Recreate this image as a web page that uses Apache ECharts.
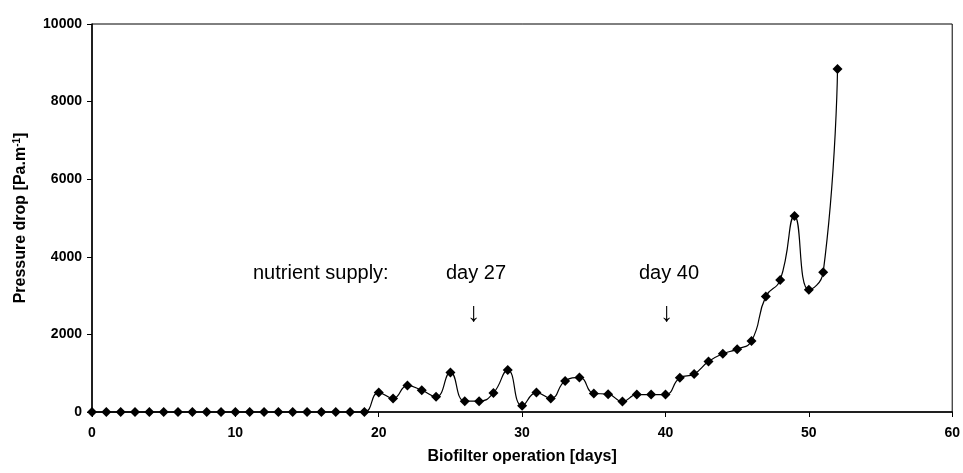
<!DOCTYPE html>
<html>
<head>
<meta charset="utf-8">
<script src="https://cdn.jsdelivr.net/npm/echarts@6/dist/echarts.min.js"></script>
<style>
  html, body { margin: 0; padding: 0; background: #fff; }
  #chart { width: 963px; height: 473px; }
</style>
</head>
<body>
<div id="chart"></div>
<script>
// Data
const days = [0,1,2,3,4,5,6,7,8,9,10,11,12,13,14,15,16,17,18,19,20,21,22,23,24,25,26,27,28,29,30,31,32,33,34,35,36,37,38,39,40,41,42,43,44,45,46,47,48,49,50,51,52];
const pressureDrop = [0,0,0,0,0,0,0,0,0,0,0,0,0,0,0,0,0,0,0,0,500,350,680,560,390,1020,280,280,490,1080,160,500,350,800,890,480,460,270,450,450,450,880,980,1300,1500,1620,1830,2980,3400,5050,3150,3600,8840];
const xTicks = { min: 0, max: 60, interval: 10 };
const yTicks = { min: 0, max: 10000, interval: 2000 };
const annotations = [
  { text: 'nutrient supply:', day: null },
  { text: 'day 27', day: 27 },
  { text: 'day 40', day: 40 }
];

const FONT = '"Liberation Sans", Arial, Helvetica, sans-serif';
const chart = echarts.init(document.getElementById('chart'), null, { renderer: 'canvas' });

const seriesData = days.map((d, i) => [d, pressureDrop[i]]);

const option = {
  backgroundColor: '#ffffff',
  animation: false,
  grid: {
    left: 92, right: 7, top: 24, bottom: 61,
    show: true, borderColor: '#000', borderWidth: 1, backgroundColor: 'transparent'
  },
  xAxis: {
    type: 'value',
    min: xTicks.min, max: xTicks.max, interval: xTicks.interval,
    name: 'Biofilter operation [days]',
    nameLocation: 'middle',
    nameGap: 37,
    nameTextStyle: { fontFamily: FONT, fontWeight: 'bold', fontSize: 16, color: '#000' },
    axisLine: { show: true, lineStyle: { color: '#000', width: 1.5 } },
    axisTick: { show: true, inside: false, length: 5, lineStyle: { color: '#000', width: 1 } },
    axisLabel: { fontFamily: FONT, fontWeight: 'bold', fontSize: 14, color: '#000', margin: 14, formatter: v => String(v) },
    splitLine: { show: false }
  },
  yAxis: {
    type: 'value',
    min: yTicks.min, max: yTicks.max, interval: yTicks.interval,
    name: 'Pressure drop [Pa.m{sup|-1}]',
    nameLocation: 'middle',
    nameGap: 62,
    nameRotate: 90,
    nameTextStyle: {
      fontFamily: FONT, fontWeight: 'bold', fontSize: 16, color: '#000',
      rich: {
        sup: { fontFamily: FONT, fontWeight: 'bold', fontSize: 10, color: '#000', verticalAlign: 'top', padding: [0, 0, 8, 0] }
      }
    },
    axisLine: { show: true, lineStyle: { color: '#000', width: 1.5 } },
    axisTick: { show: true, inside: false, length: 5, lineStyle: { color: '#000', width: 1 } },
    axisLabel: { fontFamily: FONT, fontWeight: 'bold', fontSize: 14, color: '#000', margin: 10, formatter: v => String(v) },
    splitLine: { show: false }
  },
  series: [{
    type: 'line',
    data: seriesData,
    smooth: 0.5,
    symbol: 'diamond',
    symbolSize: 10,
    showSymbol: true,
    itemStyle: { color: '#000' },
    lineStyle: { color: '#000', width: 1.2 },
    clip: false
  }],
  graphic: [
    { type: 'text', left: 253, top: 263, style: { text: annotations[0].text, font: '20px ' + FONT, fill: '#000' } },
    { type: 'text', left: 446, top: 263, style: { text: annotations[1].text, font: '20px ' + FONT, fill: '#000' } },
    { type: 'text', left: 639, top: 263, style: { text: annotations[2].text, font: '20px ' + FONT, fill: '#000' } },
    { type: 'text', left: 467, top: 300, style: { text: '\u2193', font: '27px ' + FONT, fill: '#000' } },
    { type: 'text', left: 660, top: 300, style: { text: '\u2193', font: '27px ' + FONT, fill: '#000' } }
  ]
};
chart.setOption(option);
</script>
</body>
</html>
